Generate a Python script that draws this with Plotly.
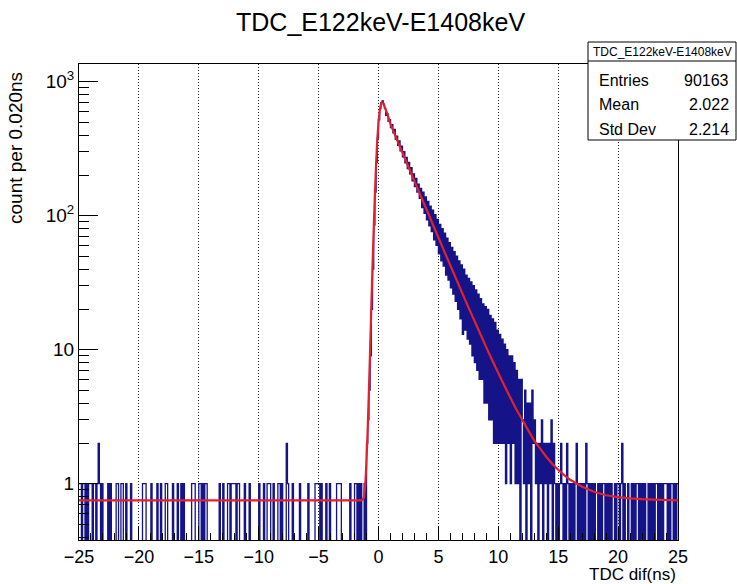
import numpy as np
import plotly.graph_objects as go

# ---------------- text ----------------
title_text = "TDC_E122keV-E1408keV"
x_title = "TDC dif(ns)"
y_title = "count per 0.020ns"
stats_header = "TDC_E122keV-E1408keV"
stats_labels = ["Entries", "Mean", "Std Dev"]
stats_values = ["90163", "2.022", "2.214"]

# ---------------- histogram data (counts per bin) ----------------
x_start = -25.0
bin_step = 0.1

# background region -25 .. -1 ns, one string per ns (10 bins each)
background_left = [
    "1101101011", "1011012101", "0000101000", "0110011001", "0001000000",
    "0001110000", "1000010010", "0011000010", "0010010100", "0000111000",
    "1101011000", "0000000100", "1000110111", "1011000010", "0010000000",
    "1000100111", "0010001101", "0002100010", "0000100000", "0100000111",
    "1010001001", "0000011110", "0000001000", "1101010010",
]
# rising edge -1.0 .. 0.4 ns
rise_counts = [2, 3, 5, 9, 20, 40, 85, 150, 250, 380, 520, 630, 700, 720, 680]
# decay 0.5 .. 11.9 ns
decay_counts = [
    630, 560, 575, 505, 520, 455, 478, 415, 440, 372,
    392, 335, 362, 305, 330, 275, 300, 248, 272, 225,
    250, 205, 228, 182, 205, 165, 190, 150, 172, 135,
    160, 115, 150, 104, 138, 93, 128, 84, 118, 76,
    110, 66, 102, 60, 94, 52, 86, 46, 80, 42,
    74, 36, 68, 33, 63, 29, 58, 26, 54, 23,
    50, 20, 46, 17, 43, 13, 40, 14, 36, 12,
    34, 11, 32, 9, 30, 8, 28, 7, 26, 6,
    24, 6, 22, 4, 21, 4, 20, 3, 18, 3,
    17, 2, 16, 2, 14, 2, 13, 2, 12, 2,
    11, 1, 10, 2, 9, 1, 9, 2, 8, 1,
    7, 1, 6, 0, 6,
]
# tail 12 .. 25 ns, one string per ns
tail_right = [
    "3150414052", "3120213021", "2021302101", "0121010210", "1010120101",
    "0102101010", "1001010110", "1010100101", "1012010010", "0101011010",
    "1010010101", "0110101011", "1010110101",
]

# ---------------- fit curve ----------------
fit_x = [-25.0, -1.5, -1.3, -1.2, -1.1, -1.0, -0.9, -0.8, -0.7, -0.6, -0.5, -0.4,
         -0.3, -0.2, -0.1, 0.0, 0.1, 0.2, 0.3, 0.4, 0.5, 0.75, 1.0, 1.5, 2.0,
         2.5, 3.0, 3.5, 4.0, 4.5, 5.0, 5.5, 6.0, 6.5, 7.0, 7.5, 8.0, 8.5, 9.0,
         9.5, 10.0, 10.5, 11.0, 11.5, 12.0, 12.5, 13.0, 13.5, 14.0, 14.5, 15.0,
         15.5, 16.0, 17.0, 18.0, 19.0, 20.0, 21.0, 22.0, 23.0, 25.0]
fit_y = [0.75, 0.75, 0.76, 0.8, 1.0, 1.5, 2.6, 5.0, 10.0, 21.0, 42.0, 80.0,
         145.0, 245.0, 370.0, 500.0, 610.0, 680.0, 700.0, 690.0, 655.0, 570.0, 485.0, 376.0, 295.0,
         231.0, 181.0, 142.0, 112.0, 87.4, 68.7, 54.0, 42.5, 33.4, 26.3, 20.8, 16.5, 13.1, 10.4,
         8.3, 6.7, 5.4, 4.4, 3.6, 3.0, 2.5, 2.1, 1.83, 1.59, 1.41, 1.27,
         1.16, 1.07, 0.95, 0.87, 0.82, 0.795, 0.778, 0.767, 0.76, 0.752]

# ---------------- axes ----------------
x_ticks = [-25, -20, -15, -10, -5, 0, 5, 10, 15, 20, 25]
y_tick_vals = [1, 10, 100, 1000]
y_tick_text = ["1", "10", "10<sup>2</sup>", "10<sup>3</sup>"]
y_minor_vals = [0.4, 0.5, 0.6, 0.7, 0.8, 0.9,
                2, 3, 4, 5, 6, 7, 8, 9,
                20, 30, 40, 50, 60, 70, 80, 90,
                200, 300, 400, 500, 600, 700, 800, 900]

# ---------------- build ----------------
counts = ([int(c) for s in background_left for c in s] + rise_counts + decay_counts
          + [int(c) for s in tail_right for c in s])
counts = np.array(counts, dtype=float)
edges = x_start + bin_step * np.arange(len(counts) + 1)
step_y = np.append(counts, counts[-1])
# empty bins are drawn down to (below) the frame bottom, as ROOT does on a log axis
step_y_disp = np.where(step_y > 0, step_y, 1e-3)

hist_color = "#141488"
fit_color = "#e3202c"
font_family = "Liberation Sans, Arial, Helvetica, sans-serif"

fig = go.Figure()
fig.add_trace(go.Scatter(
    x=edges, y=step_y_disp, mode="lines",
    line=dict(color=hist_color, width=1.3, shape="hv", simplify=False),
    hoverinfo="skip"))
fig.add_trace(go.Scatter(
    x=fit_x, y=fit_y, mode="lines",
    line=dict(color=fit_color, width=2.2, simplify=False),
    hoverinfo="skip"))

W, H = 737, 584
L, R, T, B = 79, 59, 64, 44
pw, ph = W - L - R, H - T - B


def px_x(p):
    return (p - L) / pw


def px_y(p):
    return (H - B - p) / ph


fig.update_layout(
    width=W, height=H,
    margin=dict(l=L, r=R, t=T, b=B),
    paper_bgcolor="white", plot_bgcolor="white",
    showlegend=False,
    font=dict(family=font_family, color="black"),
    xaxis=dict(
        range=[-25, 25], tickmode="array", tickvals=x_ticks,
        ticks="inside", ticklen=14, tickwidth=1, tickcolor="black",
        showline=True, linecolor="black", linewidth=1, mirror=True,
        showgrid=True, gridcolor="#222222", gridwidth=1, griddash="1px,2px",
        zeroline=False,
        minor=dict(dtick=1, ticks="inside", ticklen=7, tickcolor="black", showgrid=False),
        tickfont=dict(size=18, family=font_family, color="black"),
    ),
    yaxis=dict(
        type="log", range=[-0.42, 3.132],
        tickmode="array", tickvals=y_tick_vals, ticktext=y_tick_text,
        ticks="inside", ticklen=19, tickwidth=1, tickcolor="black",
        showline=True, linecolor="black", linewidth=1, mirror=True,
        showgrid=False, zeroline=False,
        minor=dict(tickmode="array", tickvals=y_minor_vals, ticks="inside",
                   ticklen=10, tickcolor="black", showgrid=False),
        tickfont=dict(size=19, family=font_family, color="black"),
    ),
)

# stats box
fig.add_shape(type="rect", xref="paper", yref="paper",
              x0=px_x(588), x1=px_x(736), y0=px_y(140), y1=px_y(42),
              line=dict(color="black", width=1), fillcolor="white", layer="above")
fig.add_shape(type="line", xref="paper", yref="paper",
              x0=px_x(588), x1=px_x(736), y0=px_y(61), y1=px_y(61),
              line=dict(color="black", width=1), layer="above")

annotations = [
    dict(text=title_text, x=px_x(380), y=px_y(22), xanchor="center", yanchor="middle",
         font=dict(size=25)),
    dict(text=x_title, x=1.0, y=px_y(574), xanchor="right", yanchor="middle",
         font=dict(size=17)),
    dict(text=y_title, x=px_x(15), y=px_y(148), xanchor="center", yanchor="middle",
         textangle=-90, font=dict(size=19)),
    dict(text=stats_header, x=px_x(662), y=px_y(52), xanchor="center", yanchor="middle",
         font=dict(size=12)),
]
row_y = [80, 104, 129]
for lab, val, yy in zip(stats_labels, stats_values, row_y):
    annotations.append(dict(text=lab, x=px_x(597), y=px_y(yy), xanchor="left",
                            yanchor="middle", font=dict(size=16)))
    annotations.append(dict(text=val, x=px_x(731), y=px_y(yy), xanchor="right",
                            yanchor="middle", font=dict(size=16)))
for a in annotations:
    a.update(xref="paper", yref="paper", showarrow=False)
fig.update_layout(annotations=annotations)

fig.write_html("out.html")
